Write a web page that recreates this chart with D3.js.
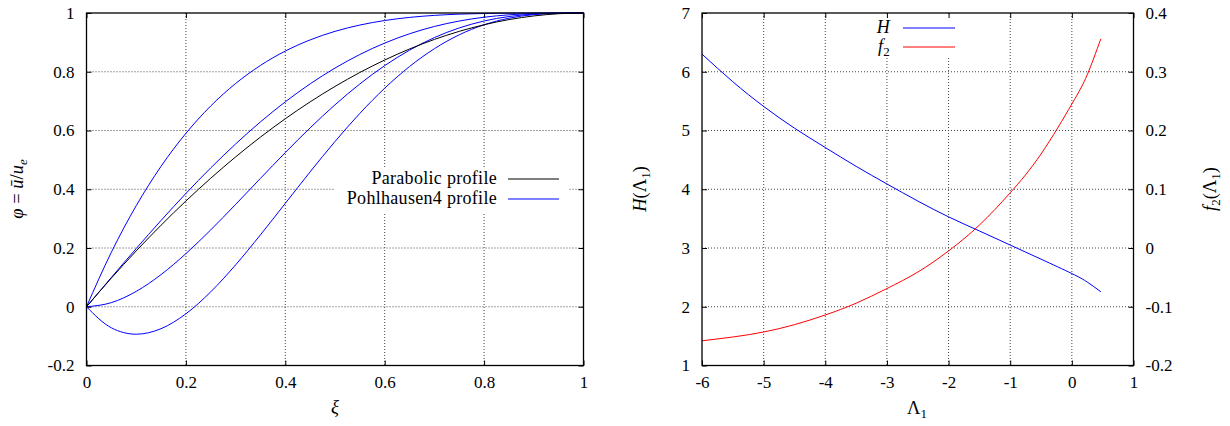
<!DOCTYPE html>
<html>
<head>
<meta charset="utf-8">
<script src="https://cdn.jsdelivr.net/npm/d3@7"></script>
<style>
  body { margin: 0; background: #fff; }
  svg text { font-family: "Liberation Serif", "DejaVu Serif", serif !important; font-size: 17px; fill: #000; }
  svg text.title { font-size: 18.5px; }
  svg text.key { font-size: 18px; letter-spacing: 0.3px; }
  .grid line { stroke: #444; stroke-dasharray: 1,2; }
  .ticks line { stroke: #000; }
  .curve { fill: none; stroke-width: 1; }
</style>
</head>
<body>
<svg id="chart" width="1230" height="426"></svg>
<script>
// left panel: velocity profiles phi(xi)
const xi = [0, 0.05, 0.1, 0.15, 0.2, 0.25, 0.3, 0.35, 0.4, 0.45, 0.5,
  0.55, 0.6, 0.65, 0.7, 0.75, 0.8, 0.85, 0.9, 0.95, 1];
const parabolic = [0, 0.0975, 0.19, 0.2775, 0.36, 0.4375, 0.51, 0.5775, 0.64, 0.6975, 0.75,
  0.7975, 0.84, 0.8775, 0.91, 0.9375, 0.96, 0.9775, 0.99, 0.9975, 1];
const pohlhausenA = [0, 0.1855, 0.3439, 0.478, 0.5904, 0.6836, 0.7599, 0.8215, 0.8704, 0.9085, 0.9375,
  0.959, 0.9744, 0.985, 0.9919, 0.9961, 0.9984, 0.9995, 0.9999, 1, 1];
const pohlhausenB = [0, 0.0998, 0.1981, 0.2938, 0.3856, 0.4727, 0.5541, 0.6293, 0.6976, 0.7588, 0.8125,
  0.8588, 0.8976, 0.9293, 0.9541, 0.9727, 0.9856, 0.9938, 0.9981, 0.9998, 1];
const pohlhausenC = [0, 0.014, 0.0523, 0.1095, 0.1808, 0.2617, 0.3483, 0.437, 0.5248, 0.609, 0.6875,
  0.7585, 0.8208, 0.8735, 0.9163, 0.9492, 0.9728, 0.988, 0.9963, 0.9995, 1];
const pohlhausenD = [0, -0.0717, -0.0935, -0.0747, -0.024, 0.0508, 0.1425, 0.2448, 0.352, 0.4593, 0.5625,
  0.6583, 0.744, 0.8178, 0.8785, 0.9258, 0.96, 0.9823, 0.9945, 0.9993, 1];
const xiTicks = [0, 0.2, 0.4, 0.6, 0.8, 1];
const phiTicks = [-0.2, 0, 0.2, 0.4, 0.6, 0.8, 1];

// right panel: H and f2 against Lambda_1
const lambda1 = [-6, -5.5, -5, -4.5, -4, -3.5, -3, -2.5, -2, -1.5, -1, -0.5, 0, 0.25, 0.47];
const shapeH = [6.30, 5.83, 5.41, 5.04, 4.71, 4.39, 4.09, 3.80, 3.53, 3.29, 3.05, 2.81, 2.565, 2.42, 2.255];
const f2 = [-0.158, -0.1515, -0.143, -0.1305, -0.114, -0.094, -0.069, -0.041, -0.005, 0.039, 0.094, 0.160, 0.245, 0.295, 0.356];
const lambdaTicks = [-6, -5, -4, -3, -2, -1, 0, 1];
const hTicks = [1, 2, 3, 4, 5, 6, 7];
const f2Ticks = [-0.2, -0.1, 0, 0.1, 0.2, 0.3, 0.4];

const serif = '"Liberation Serif", "DejaVu Serif", serif';
const svg = d3.select('#chart')
  .attr('font-family', serif);
svg.append('rect').attr('width', 1230).attr('height', 426).attr('fill', '#fff');

const plotTop = 13, plotBottom = 365.5;
const tickLen = 5;
const fmt = d => String(d);

// helper: text made of italic / upright / subscript pieces
const mathText = (g, parts) => {
  parts.forEach(p => {
    const ts = g.append('tspan').text(p.t);
    if (p.i) ts.style('font-style', 'italic');
    if (p.sub) ts.attr('dy', 4).style('font-size', '13px');
    if (p.up) ts.attr('dy', -4);
  });
  return g;
};

const drawFrame = (g, x0, x1) => {
  g.append('rect')
    .attr('x', x0).attr('y', plotTop)
    .attr('width', x1 - x0).attr('height', plotBottom - plotTop)
    .attr('fill', 'none')
    .attr('stroke', '#000')
    .attr('stroke-width', 1.3);
};

const drawGrid = (g, x, y, xVals, yVals, x0, x1) => {
  const grid = g.append('g').attr('class', 'grid');
  grid.selectAll('.gx')
    .data(xVals.slice(1, -1))
    .enter().append('line')
    .attr('x1', d => x(d)).attr('x2', d => x(d))
    .attr('y1', plotTop).attr('y2', plotBottom);
  grid.selectAll('.gy')
    .data(yVals.slice(1, -1))
    .enter().append('line')
    .attr('x1', x0).attr('x2', x1)
    .attr('y1', d => y(d)).attr('y2', d => y(d));
};

const legend = (g, items, textRight, lineX0, lineX1, bg) => {
  g.append('rect')
    .attr('x', bg[0]).attr('y', bg[1]).attr('width', bg[2]).attr('height', bg[3])
    .attr('fill', '#fff');
  items.forEach(it => {
    const t = g.append('text')
      .attr('class', 'key')
      .attr('x', textRight).attr('y', it.row + 5)
      .attr('text-anchor', 'end');
    mathText(t, it.label);
    g.append('line')
      .attr('x1', lineX0).attr('x2', lineX1)
      .attr('y1', it.row).attr('y2', it.row)
      .attr('stroke', it.color).attr('stroke-width', 1);
  });
};

// d3 axes put a sans font on their group, drop it
const cleanAxis = g => {
  g.attr('font-family', null).attr('font-size', null);
  g.select('.domain').remove();
};

// ---------- left panel ----------
const lx0 = 86.5, lx1 = 583.5;
const xL = d3.scaleLinear().domain([0, 1]).range([lx0, lx1]);
const yL = d3.scaleLinear().domain([-0.2, 1]).range([plotBottom, plotTop]);
const left = svg.append('g');

drawGrid(left, xL, yL, xiTicks, phiTicks, lx0, lx1);

legend(left, [
  { label: [{ t: 'Parabolic profile' }], color: '#000', row: 179 },
  { label: [{ t: 'Pohlhausen4 profile' }], color: '#0000ff', row: 199 },
], 497, 508, 559, [334, 167, 234, 45]);

left.append('g').attr('class', 'ticks')
  .attr('transform', `translate(0,${plotBottom})`)
  .call(d3.axisBottom(xL).tickValues(xiTicks).tickFormat(fmt).tickSize(-tickLen).tickPadding(10))
  .call(cleanAxis);
left.append('g').attr('class', 'ticks')
  .attr('transform', `translate(0,${plotTop})`)
  .call(d3.axisTop(xL).tickValues(xiTicks).tickFormat('').tickSize(-tickLen))
  .call(cleanAxis);
left.append('g').attr('class', 'ticks')
  .attr('transform', `translate(${lx0},0)`)
  .call(d3.axisLeft(yL).tickValues(phiTicks).tickFormat(fmt).tickSize(-tickLen).tickPadding(12))
  .call(cleanAxis);
left.append('g').attr('class', 'ticks')
  .attr('transform', `translate(${lx1},0)`)
  .call(d3.axisRight(yL).tickValues(phiTicks).tickFormat('').tickSize(-tickLen))
  .call(cleanAxis);

const lineL = d3.line()
  .x((d, i) => xL(xi[i]))
  .y(d => yL(d))
  .curve(d3.curveMonotoneX);

[pohlhausenA, pohlhausenB, pohlhausenC, pohlhausenD].forEach(s => {
  left.append('path').attr('class', 'curve')
    .attr('d', lineL(s))
    .attr('stroke', '#0000ff');
});
left.append('path').attr('class', 'curve')
  .attr('d', lineL(parabolic))
  .attr('stroke', '#000');

drawFrame(left, lx0, lx1);

mathText(left.append('text')
  .attr('class', 'title')
  .attr('text-anchor', 'middle')
  .attr('transform', 'translate(23,189) rotate(-90)'),
  [{ t: 'φ', i: true }, { t: ' = ' }, { t: 'ū', i: true }, { t: '/' }, { t: 'u', i: true }, { t: 'e', i: true, sub: true }]);

mathText(left.append('text')
  .attr('class', 'title')
  .attr('x', 335).attr('y', 413)
  .attr('text-anchor', 'middle'),
  [{ t: 'ξ', i: true }]);

// ---------- right panel ----------
const rx0 = 702, rx1 = 1133.5;
const xR = d3.scaleLinear().domain([-6, 1]).range([rx0, rx1]);
const yR = d3.scaleLinear().domain([1, 7]).range([plotBottom, plotTop]);
const yR2 = d3.scaleLinear().domain([-0.2, 0.4]).range([plotBottom, plotTop]);
const right = svg.append('g');

drawGrid(right, xR, yR, lambdaTicks, hTicks, rx0, rx1);

legend(right, [
  { label: [{ t: 'H', i: true }], color: '#0000ff', row: 28 },
  { label: [{ t: 'f', i: true }, { t: '2', sub: true }], color: '#ff0000', row: 47 },
], 890, 903, 955, [866, 16, 96, 40]);

right.append('g').attr('class', 'ticks')
  .attr('transform', `translate(0,${plotBottom})`)
  .call(d3.axisBottom(xR).tickValues(lambdaTicks).tickFormat(fmt).tickSize(-tickLen).tickPadding(10))
  .call(cleanAxis);
right.append('g').attr('class', 'ticks')
  .attr('transform', `translate(0,${plotTop})`)
  .call(d3.axisTop(xR).tickValues(lambdaTicks).tickFormat('').tickSize(-tickLen))
  .call(cleanAxis);
right.append('g').attr('class', 'ticks')
  .attr('transform', `translate(${rx0},0)`)
  .call(d3.axisLeft(yR).tickValues(hTicks).tickFormat(fmt).tickSize(-tickLen).tickPadding(12))
  .call(cleanAxis);
right.append('g').attr('class', 'ticks')
  .attr('transform', `translate(${rx1},0)`)
  .call(d3.axisRight(yR2).tickValues(f2Ticks).tickFormat(fmt).tickSize(-tickLen).tickPadding(12))
  .call(cleanAxis);

const lineH = d3.line()
  .x((d, i) => xR(lambda1[i]))
  .y(d => yR(d))
  .curve(d3.curveNatural);
const lineF = d3.line()
  .x((d, i) => xR(lambda1[i]))
  .y(d => yR2(d))
  .curve(d3.curveNatural);

right.append('path').attr('class', 'curve')
  .attr('d', lineH(shapeH))
  .attr('stroke', '#0000ff');
right.append('path').attr('class', 'curve')
  .attr('d', lineF(f2))
  .attr('stroke', '#ff0000');

drawFrame(right, rx0, rx1);

mathText(right.append('text')
  .attr('class', 'title')
  .attr('text-anchor', 'middle')
  .attr('transform', 'translate(646,189) rotate(-90)'),
  [{ t: 'H', i: true }, { t: '(Λ' }, { t: '1', sub: true }, { t: ')', up: true }]);

mathText(right.append('text')
  .attr('class', 'title')
  .attr('text-anchor', 'middle')
  .attr('transform', 'translate(1216,189) rotate(-90)'),
  [{ t: 'f', i: true }, { t: '2', sub: true }, { t: '(Λ', up: true }, { t: '1', sub: true }, { t: ')', up: true }]);

mathText(right.append('text')
  .attr('class', 'title')
  .attr('x', 917).attr('y', 414)
  .attr('text-anchor', 'middle'),
  [{ t: 'Λ' }, { t: '1', sub: true }]);
</script>
</body>
</html>
